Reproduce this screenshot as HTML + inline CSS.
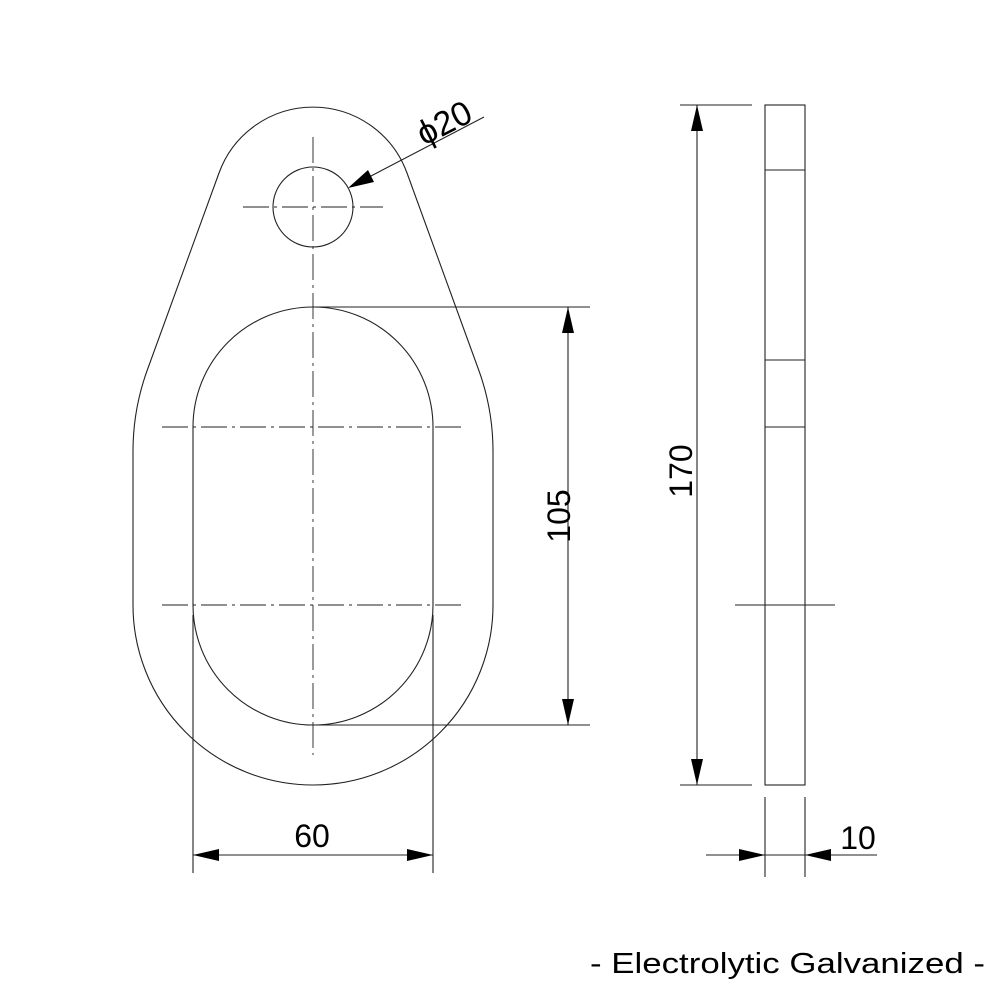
<!DOCTYPE html>
<html><head><style>html,body{margin:0;padding:0;background:#fff}svg{display:block}</style></head>
<body>
<svg width="1000" height="1000" viewBox="0 0 1000 1000" xmlns="http://www.w3.org/2000/svg" font-family="Liberation Sans, sans-serif">
<g fill="none" stroke="#222" stroke-width="1.1">
<path d="M147.3,370 L219,173 A100 100 0 0 1 407,173 L478.7,370 A238 238 0 0 1 493,451 L493,605 A180 180 0 0 1 133,605 L133,451 A238 238 0 0 1 147.3,370 Z"/>
<path d="M193,605 L193,427 A120 120 0 0 1 433,427 L433,605 A120 120 0 0 1 193,605 Z"/>
<circle cx="313" cy="207" r="40"/>
<g stroke-dasharray="26 5 3 5" stroke-width="0.9">
<line x1="313" y1="137" x2="313" y2="755"/>
<line x1="243" y1="207" x2="383" y2="207"/>
<line x1="162" y1="427" x2="462" y2="427"/>
<line x1="162" y1="605" x2="462" y2="605"/>
</g>
<line x1="313" y1="307" x2="590" y2="307"/>
<line x1="313" y1="725" x2="590" y2="725"/>
<line x1="568" y1="307" x2="568" y2="725"/>
<line x1="193" y1="615" x2="193" y2="873"/>
<line x1="433" y1="615" x2="433" y2="873"/>
<line x1="193" y1="855" x2="433" y2="855"/>
<line x1="484" y1="117" x2="350" y2="187"/>
<rect x="765" y="105" width="40" height="680"/>
<line x1="765" y1="170" x2="805" y2="170"/>
<line x1="765" y1="360" x2="805" y2="360"/>
<line x1="765" y1="427" x2="805" y2="427"/>
<line x1="735" y1="605" x2="835" y2="605"/>
<line x1="680" y1="105" x2="752" y2="105"/>
<line x1="680" y1="785" x2="752" y2="785"/>
<line x1="697" y1="105" x2="697" y2="785"/>
<line x1="765" y1="797" x2="765" y2="877"/>
<line x1="805" y1="797" x2="805" y2="877"/>
<line x1="706" y1="855" x2="877" y2="855"/>
</g>
<g fill="#000">
<polygon points="568,307 562,333 574,333"/>
<polygon points="568,725 562,699 574,699"/>
<polygon points="193,855 219,849 219,861"/>
<polygon points="433,855 407,849 407,861"/>
<polygon points="697,105 691,131 703,131"/>
<polygon points="697,785 691,759 703,759"/>
<polygon points="765,855 739,849 739,861"/>
<polygon points="805,855 831,849 831,861"/>
<polygon points="348,188 368,170 374,182"/>
</g>
<g fill="#000" font-size="32">
<text x="312" y="847" text-anchor="middle">60</text>
<text x="858" y="849" text-anchor="middle">10</text>
<text transform="translate(570,516) rotate(-90)" text-anchor="middle">105</text>
<text transform="translate(692,471) rotate(-90)" text-anchor="middle">170</text>
<text transform="translate(424,146) rotate(-27)" font-size="34">ϕ20</text>
<text x="590" y="973" textLength="395" lengthAdjust="spacingAndGlyphs" font-size="29">- Electrolytic Galvanized -</text>
</g>
</svg>
</body></html>
